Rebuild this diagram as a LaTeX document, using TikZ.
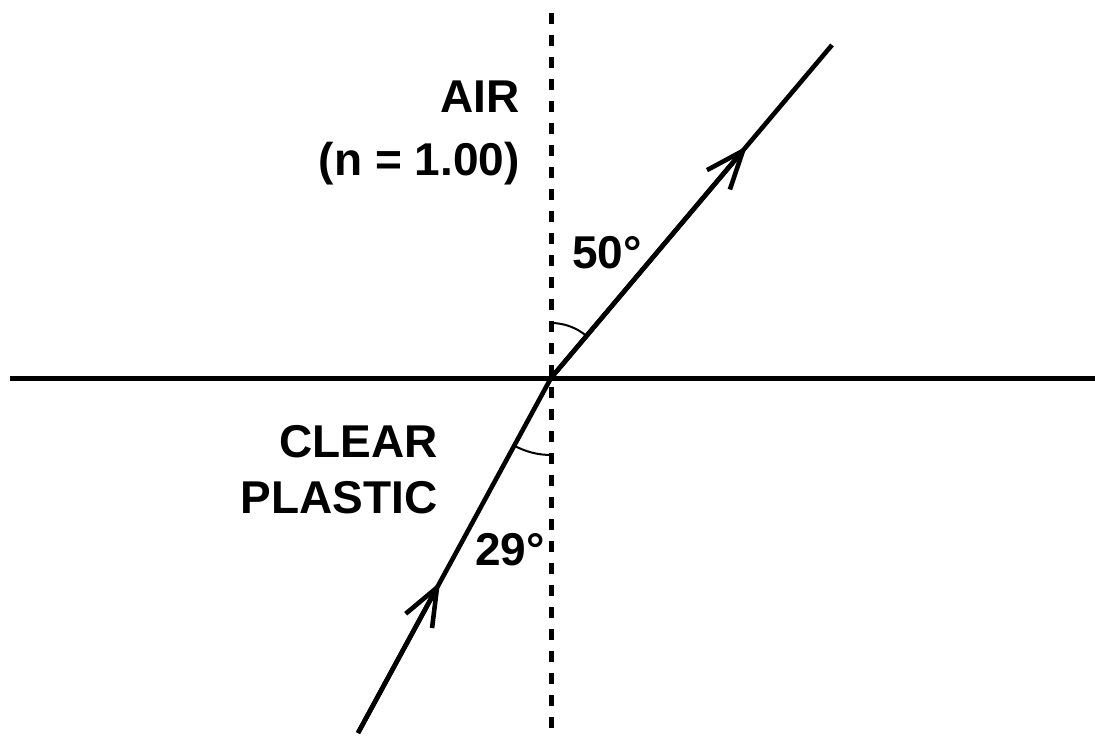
\documentclass[tikz,border=0pt]{standalone}
\usepackage{fontspec}
\setmainfont{Liberation Sans}
\usetikzlibrary{arrows.meta}

\begin{document}
\begin{tikzpicture}[
  x=0.5pt, y=0.5pt,
  font=\bfseries\fontsize{23}{27}\selectfont,
  surface/.style={line width=2.5pt},
  normal/.style={line width=2.5pt, dash pattern=on 5.5pt off 5.5pt},
  ray/.style={line width=2.3pt},
  tipped/.style={ray, -{Straight Barb[length=19pt, width=15pt, line width=2.3pt]}},
  anglearc/.style={line width=1pt},
  lab/.style={inner sep=0pt},
]
\useasboundingbox (0,0) rectangle (1095,740);

% ---------- Boundary and normal ----------
\coordinate (o)    at (551,362);
\coordinate (west) at (10,362);
\coordinate (east) at (1095,362);
\coordinate (ntop) at (551,727);
\coordinate (nbot) at (551,5);
\draw[surface] (west) -- (east);
\draw[normal]  (ntop) -- (nbot);

% ---------- Rays ----------
\coordinate (outend) at (832,695);
\coordinate (outtip) at (747,594);
\coordinate (inend)  at (358,7);
\coordinate (intip)  at (440,158);
\draw[ray]    (o) -- (outend);
\draw[tipped] (o) -- (outtip);
\draw[ray]    (inend) -- (o);
\draw[tipped] (inend) -- (intip);

% angle marks
\draw[anglearc] (o) ++(90:55) arc[start angle=90, end angle=49.8, radius=55];
\draw[anglearc] (o) ++(241.5:77) arc[start angle=241.5, end angle=270, radius=77];

% ---------- Labels ----------
\node[lab, anchor=base east] (air)     at (520,627) {AIR};
\node[lab, anchor=base east] (airn)    at (520,564) {(n = 1.00)};
\node[lab, anchor=base east] (clear)   at (438,283) {CLEAR};
\node[lab, anchor=base east] (plastic) at (438,227) {PLASTIC};
\node[lab, anchor=base west] (outang)  at (572,472) {50°};
\node[lab, anchor=base west] (inang)   at (475,175) {29°};

\end{tikzpicture}
\end{document}
